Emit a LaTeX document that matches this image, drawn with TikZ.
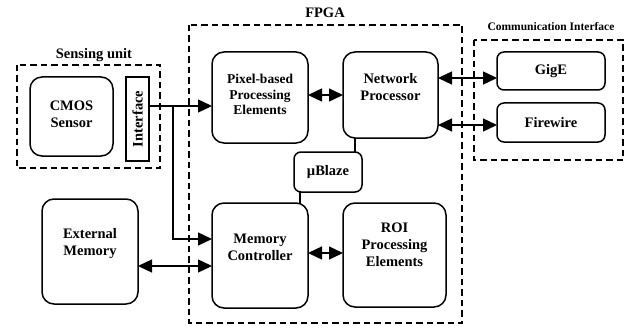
\documentclass[tikz,border=0pt]{standalone}
\usepackage{fontspec}
\setmainfont{Liberation Serif}
\usetikzlibrary{arrows.meta}
\tikzset{
  rbox/.style={draw, line width=1.5pt, rounded corners=12pt, inner sep=0pt, outer sep=0pt},
  sbox/.style={draw, line width=1.5pt, rounded corners=7pt, inner sep=0pt, outer sep=0pt},
  pbox/.style={draw, line width=1.5pt, inner sep=0pt, outer sep=0pt},
  dbox/.style={draw, line width=1.4pt, dash pattern=on 6.5pt off 4pt},
  txt/.style={font=\fontsize{14.5}{17}\selectfont\bfseries, align=center, inner sep=0pt},
  stxt/.style={font=\fontsize{13.5}{15.5}\selectfont\bfseries, align=center, inner sep=0pt},
  ctxt/.style={font=\fontsize{11.5}{13}\selectfont\bfseries, align=center, inner sep=0pt},
  tip/.tip={Triangle[length=14pt,width=13pt]},
  arr/.style={line width=1.4pt, -tip},
  darr/.style={line width=1.4pt, tip-tip},
  wire/.style={line width=1.4pt},
}
\begin{document}
\begin{tikzpicture}[x=1pt,y=-1pt]
\useasboundingbox (0,0) rectangle (636,326);
% dashed groups
\draw[dbox] (17,65) rectangle (160,168);
\draw[dbox] (189,25) rectangle (462,323);
\draw[dbox] (474,40) rectangle (623,160);
\node[txt] (lsens) at (94,55) {Sensing unit};
\node[txt] (lfpga) at (325,13) {FPGA};
\node[ctxt] (lci) at (551,27) {Communication Interface};
% boxes
\node[rbox, minimum width=83pt, minimum height=79pt,
      label={[txt, yshift=2pt]center:CMOS\\Sensor}] (cmos) at (71.5,116.5) {};
\node[pbox, minimum width=23pt, minimum height=84pt,
      label={[txt, rotate=90]center:Interface}] (intf) at (137.5,119) {};
\node[rbox, minimum width=96pt, minimum height=91pt,
      label={[stxt, yshift=3pt]center:Pixel-based\\Processing\\Elements}] (pix) at (260,97.5) {};
\node[rbox, minimum width=95pt, minimum height=86pt,
      label={[txt, yshift=8pt]center:Network\\Processor}] (np) at (390.5,95) {};
\node[sbox, minimum width=68pt, minimum height=40pt,
      label={[txt]center:µBlaze}] (ub) at (328,172) {};
\node[rbox, minimum width=96pt, minimum height=105pt,
      label={[txt, yshift=8pt]center:Memory\\Controller}] (mc) at (260,255.5) {};
\node[rbox, minimum width=103pt, minimum height=104pt,
      label={[txt, yshift=10pt]center:ROI\\Processing\\Elements}] (roi) at (394.5,255) {};
\node[rbox, minimum width=96pt, minimum height=105pt,
      label={[txt, yshift=8pt]center:External\\Memory}] (ext) at (90,251.5) {};
\node[sbox, minimum width=108pt, minimum height=38pt,
      label={[txt]center:GigE}] (gige) at (551,71) {};
\node[sbox, minimum width=108pt, minimum height=39pt,
      label={[txt]center:Firewire}] (fw) at (551,122.5) {};
% connectors
\coordinate (j) at (173,106);
\draw[arr] (intf.east |- j) -- (pix.west |- j);
\draw[arr] (j) |- ([yshift=16.5pt]mc.west);
\draw[darr] ([yshift=-14.5pt]ext.east) -- ([yshift=-10.5pt]mc.west);
\draw[darr] (pix.east |- np.east) -- (np.west);
\draw[darr] ([yshift=2.5pt]mc.east) -- ([yshift=2.5pt]mc.east -| roi.west);
\draw[darr] ([yshift=17pt]np.east) -- ([yshift=17pt]np.east -| gige.west);
\draw[darr] ([yshift=-30pt]np.east) -- ([yshift=-30pt]np.east -| fw.west);
\draw[wire] ([xshift=-35.5pt]np.south) -- ([xshift=-35.5pt]np.south |- ub.north);
\draw[wire] ([xshift=-28pt]ub.south) -- ([xshift=-28pt]ub.south |- mc.north);
\end{tikzpicture}
\end{document}
